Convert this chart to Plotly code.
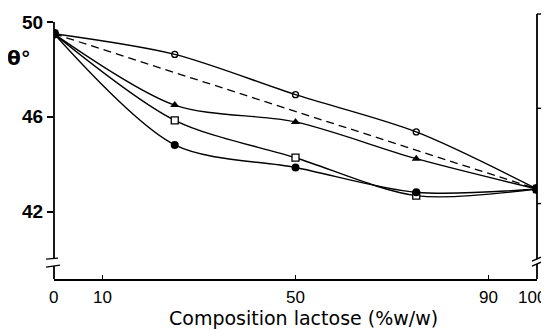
import plotly.graph_objects as go

# ---- data ----
composition = [0, 25, 50, 75, 100]          # % w/w lactose
theta_open_circle = [49.5, 48.63, 46.93, 45.36, 42.95]
theta_filled_triangle = [49.5, 46.49, 45.78, 44.23, 42.95]
theta_open_square = [49.5, 45.85, 44.27, 42.67, 42.95]
theta_filled_circle = [49.5, 44.81, 43.86, 42.81, 42.95]
ideal_x = [0, 100]
ideal_theta = [49.5, 42.95]

x_ticks = [0, 10, 50, 90, 100]
x_tick_labels = ["0", "10", "50", "90", "100"]
y_ticks = [42, 46, 50]

# ---- layout geometry (page pixels; the page body adds an 8px offset) ----
OFF = 8
W, H = 549, 329
L, R, T, B = 54 - OFF, 12 + OFF, 12 - OFF, 50 + OFF
PW, PH = W - L - R, H - T - B
Y_RANGE = [39.152, 50.335]


def px(xp):
    return (xp - OFF - L) / PW


def py(yp):
    return (H - B - (yp - OFF)) / PH


fig = go.Figure()

fig.add_trace(go.Scatter(x=ideal_x, y=ideal_theta, mode="lines",
                         line=dict(color="black", width=1.3, dash="8px,5px"),
                         showlegend=False, hoverinfo="skip"))

series = [
    (theta_open_circle, dict(symbol="circle-open", size=6, color="black", line=dict(width=1.3))),
    (theta_filled_triangle, dict(symbol="triangle-up", size=8, color="black")),
    (theta_open_square, dict(symbol="square", size=7, color="white", line=dict(width=1.3, color="black"))),
    (theta_filled_circle, dict(symbol="circle", size=8, color="black")),
]
for ys, mk in series:
    fig.add_trace(go.Scatter(x=composition, y=ys, mode="lines+markers",
                             line=dict(color="black", width=1.4, shape="spline", smoothing=0.85),
                             marker=mk, showlegend=False))

# end-point blobs
fig.add_trace(go.Scatter(x=[composition[0], composition[-1]],
                         y=[theta_filled_circle[0], theta_filled_circle[-1]],
                         mode="markers", marker=dict(symbol="circle", size=10, color="black"),
                         showlegend=False))

shapes = []
lw = 1.8


def seg(x0, y0, x1, y1, w=lw):
    shapes.append(dict(type="line", xref="paper", yref="paper",
                       x0=px(x0), y0=py(y0), x1=px(x1), y1=py(y1),
                       line=dict(color="black", width=w)))


# left axis with break
seg(54, 20, 54, 258)
seg(54, 266, 54, 279)
seg(46, 259, 58, 258, 1.4)
seg(46, 267, 60, 265, 1.4)
# right axis with break
seg(537, 12, 537, 259)
seg(537, 264, 537, 279)
seg(537, 12, 542, 12, 1.4)
seg(537, 107, 541, 107, 1.4)
seg(537, 203, 541, 203, 1.4)
seg(532, 261, 541, 257, 1.4)
seg(532, 266, 541, 262, 1.4)

tick_font = dict(family="Liberation Sans", size=17, color="black")
annotations = [
    dict(text="θ°", xref="paper", yref="paper", x=px(19), y=py(56),
         xanchor="center", yanchor="middle", showarrow=False,
         font=dict(family="DejaVu Sans", size=20, color="black", weight="bold")),
    dict(text="Composition lactose (%w/w)", xref="paper", yref="paper",
         x=px(303), y=py(318), xanchor="center", yanchor="middle", showarrow=False,
         font=dict(family="DejaVu Sans", size=19, color="black")),
]
# x tick labels as text placed at their axis values (last one nudged left like the reference)
for xv, lab in zip(x_ticks, x_tick_labels):
    shift = -5 if xv == x_ticks[-1] else (-1 if xv == x_ticks[0] else 0)
    annotations.append(dict(text=lab, xref="x", yref="paper", x=xv, y=py(298),
                            xanchor="center", yanchor="middle", showarrow=False,
                            xshift=shift, font=tick_font))

fig.update_layout(
    width=W, height=H,
    margin=dict(l=L, r=R, t=T, b=B),
    paper_bgcolor="white", plot_bgcolor="white",
    shapes=shapes,
    xaxis=dict(range=[0, 100], tickvals=x_ticks, showticklabels=False,
               showgrid=False, zeroline=False, showline=True, linecolor="black", linewidth=lw,
               ticks="inside", ticklen=4, tickcolor="black", tickwidth=1.4),
    yaxis=dict(range=Y_RANGE, tickvals=y_ticks, ticktext=[str(v) for v in y_ticks],
               showgrid=False, zeroline=False, showline=False,
               ticks="outside", ticklen=6, tickcolor="black", tickwidth=1.5,
               tickfont=dict(family="Liberation Sans", size=19, color="black", weight="bold")),
    annotations=annotations,
)

fig.write_html("out.html")
